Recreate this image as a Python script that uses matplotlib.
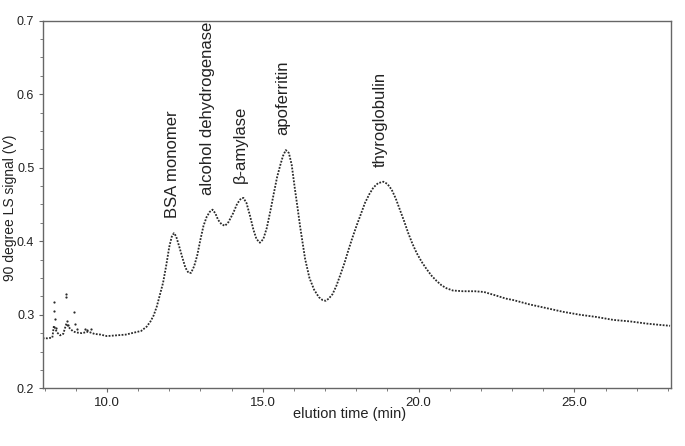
import matplotlib
matplotlib.use("Agg")
import matplotlib.pyplot as plt
from matplotlib.ticker import MultipleLocator, FormatStrFormatter

plt.rcParams['font.family'] = ['Liberation Sans', 'DejaVu Sans']

# elution trace (min, V)
time_min = [7.94, 8.10, 8.25, 8.30, 8.40, 8.50, 8.60, 8.70, 8.80, 8.90,
            9.00, 9.20, 9.40, 9.60, 9.80, 10.00, 10.30, 10.60, 10.90, 11.10,
            11.28, 11.40, 11.50, 11.60, 11.70, 11.80, 11.90, 12.00, 12.08, 12.15,
            12.22, 12.32, 12.42, 12.52, 12.62, 12.70, 12.80, 12.90, 13.00, 13.10,
            13.20, 13.30, 13.39, 13.48, 13.57, 13.68, 13.79, 13.90, 14.05, 14.18,
            14.30, 14.38, 14.48, 14.59, 14.70, 14.80, 14.91, 15.02, 15.13, 15.25,
            15.36, 15.46, 15.56, 15.65, 15.74, 15.84, 15.93, 16.03, 16.12, 16.20,
            16.36, 16.50, 16.65, 16.80, 16.92, 17.02, 17.12, 17.24, 17.36, 17.48,
            17.62, 17.75, 17.88, 18.01, 18.15, 18.28, 18.42, 18.55, 18.70, 18.87,
            19.00, 19.14, 19.27, 19.40, 19.54, 19.67, 19.80, 19.94, 20.10, 20.26,
            20.42, 20.58, 20.74, 20.90, 21.10, 21.43, 21.80, 22.10, 22.50, 22.80,
            23.04, 23.57, 24.11, 24.64, 25.18, 25.71, 26.25, 26.78, 27.32, 27.80,
            28.07]
signal = [0.268, 0.268, 0.269, 0.285, 0.276, 0.272, 0.274, 0.288, 0.282, 0.278,
          0.276, 0.275, 0.277, 0.274, 0.273, 0.271, 0.272, 0.273, 0.276, 0.278,
          0.284, 0.291, 0.299, 0.311, 0.327, 0.343, 0.366, 0.392, 0.406, 0.411,
          0.407, 0.393, 0.378, 0.364, 0.357, 0.357, 0.366, 0.381, 0.402, 0.421,
          0.433, 0.440, 0.443, 0.438, 0.429, 0.423, 0.421, 0.426, 0.438, 0.451,
          0.458, 0.459, 0.452, 0.435, 0.416, 0.403, 0.398, 0.403, 0.418, 0.442,
          0.466, 0.487, 0.503, 0.516, 0.524, 0.520, 0.504, 0.472, 0.445, 0.420,
          0.376, 0.350, 0.334, 0.324, 0.320, 0.319, 0.322, 0.328, 0.339, 0.353,
          0.370, 0.388, 0.405, 0.421, 0.437, 0.452, 0.464, 0.473, 0.479, 0.481,
          0.478, 0.470, 0.458, 0.443, 0.427, 0.411, 0.397, 0.384, 0.372, 0.362,
          0.353, 0.346, 0.340, 0.336, 0.333, 0.332, 0.332, 0.331, 0.326, 0.322,
          0.320, 0.314, 0.309, 0.304, 0.300, 0.297, 0.293, 0.291, 0.288, 0.286,
          0.285]

# stray points near the injection
noise_t = [8.30, 8.31, 8.33, 8.36, 8.69, 8.70, 8.72, 8.76, 8.95, 8.97, 9.05, 9.30, 9.35, 9.50]
noise_v = [0.317, 0.305, 0.294, 0.282, 0.328, 0.324, 0.292, 0.286, 0.304, 0.287, 0.280, 0.281, 0.279, 0.280]

peak_names = ['BSA monomer', 'alcohol dehydrogenase', '\u03b2-amylase', 'apoferritin', 'thyroglobulin']
peak_x = [12.09, 13.24, 14.27, 15.64, 18.76]
peak_y = [0.432, 0.463, 0.479, 0.545, 0.501]

fig = plt.figure(figsize=(6.85, 4.46), dpi=100)
ax = fig.add_axes([0.0623, 0.1294, 0.9168, 0.8242])

ax.plot(time_min, signal, color='#2a2a2a', lw=1.3, linestyle=(0, (1, 0.8)))
ax.plot(noise_t, noise_v, 'o', color='#2a2a2a', ms=1.6, mew=0)

for name, x, y in zip(peak_names, peak_x, peak_y):
    ax.text(x, y, name, rotation=90, ha='center', va='bottom', fontsize=12, color='#222222')

ax.set_xlim(7.94, 28.09)
ax.set_ylim(0.2, 0.7)
ax.xaxis.set_major_locator(MultipleLocator(5))
ax.xaxis.set_minor_locator(MultipleLocator(1))
ax.yaxis.set_major_locator(MultipleLocator(0.1))
ax.yaxis.set_minor_locator(MultipleLocator(0.025))
ax.xaxis.set_major_formatter(FormatStrFormatter('%.1f'))
ax.yaxis.set_major_formatter(FormatStrFormatter('%.1f'))

for s in ax.spines.values():
    s.set_color('#666666')
    s.set_linewidth(1.0)
ax.tick_params(which='both', direction='out', colors='#666666', labelcolor='#222222', labelsize=9.5)
ax.tick_params(which='major', length=3, pad=3)
ax.tick_params(which='minor', length=2)
ax.tick_params(axis='y', labelsize=9)

ax.set_xlabel('elution time (min)', fontsize=10.5, color='#222222')
ax.set_ylabel('90 degree LS signal (V)', fontsize=10, color='#222222', va='center')
ax.xaxis.set_label_coords(0.489, -0.05)
ax.yaxis.set_label_coords(-0.052, 0.49)

fig.savefig('out.png', dpi=100)
